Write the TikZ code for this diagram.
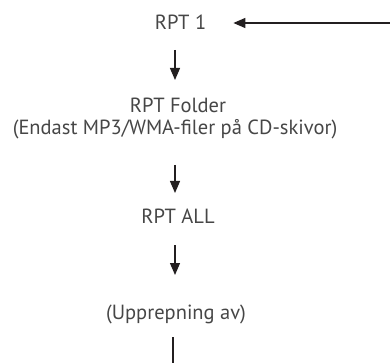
\documentclass[tikz,border=0pt]{standalone}
\usepackage{fontspec}
\setmainfont{PT Sans}
\usetikzlibrary{arrows.meta}
\definecolor{txt}{RGB}{70,70,70}
\definecolor{ink}{RGB}{35,31,32}
\tikzset{
  lbl/.style={inner sep=0pt, anchor=base, text=txt, font=\fontsize{20.5}{24}\selectfont},
  arr/.style={draw=ink, line width=1.3pt, -{Triangle[length=12pt,width=10pt]}},
  plain/.style={draw=ink, line width=1.3pt}
}
\begin{document}
\begin{tikzpicture}[x=1pt,y=-1pt]
\useasboundingbox (0,0) rectangle (390,363);
\node[lbl] (r1) at (180.5,30) {RPT 1};
\node[lbl] (rf1) at (178,113) {RPT Folder};
\node[lbl] (rf2) at (175,135) {(Endast MP3/WMA-filer på CD-skivor)};
\node[lbl] (ra) at (178,223) {RPT ALL};
\node[lbl] (up) at (176,319) {(Upprepning av)};
\coordinate (e) at (390,23);
\coordinate (bot) at (173,363);
\draw[arr] (e) -- ([xshift=27pt]r1.east |- e);
\draw[arr] ([yshift=-20pt]r1.base -| 175,0) -- ([yshift=33pt]rf1.base -| 175,0);
\draw[arr] ([yshift=-30pt]rf2.base -| 175,0) -- ([yshift=30pt]ra.base -| 175,0);
\draw[arr] ([yshift=-22pt]ra.base -| 175,0) -- ([yshift=44pt]up.base -| 175,0);
\draw[plain] ([yshift=-18pt]up.base -| bot) -- (bot);
\end{tikzpicture}
\end{document}
